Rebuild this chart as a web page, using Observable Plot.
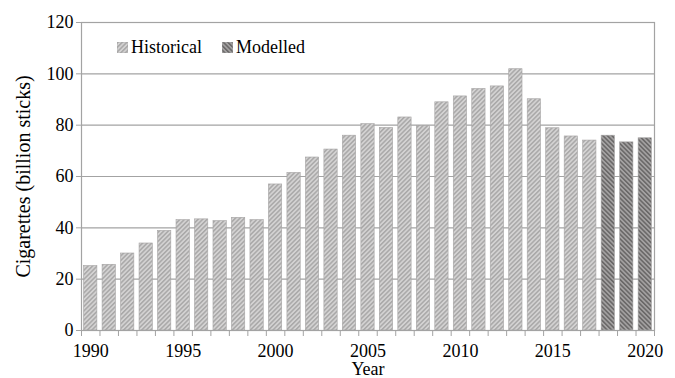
<!DOCTYPE html>
<html>
<head>
<meta charset="utf-8">
<script src="https://cdn.jsdelivr.net/npm/d3@7"></script>
<script src="https://cdn.jsdelivr.net/npm/@observablehq/plot@0.6"></script>
<style>
  html, body { margin: 0; padding: 0; background: #fff; }
  #wrap { position: relative; width: 675px; height: 378px; font-family: 'Liberation Serif', 'Times New Roman', 'DejaVu Serif', serif; }
  #legend { position: absolute; left: 117px; top: 37px; display: flex; align-items: center; font-size: 18px; color: #000; }
  #legend .item { display: flex; align-items: center; margin-right: 20px; }
  #legend svg { margin-right: 3px; }
</style>
</head>
<body>
<svg width="0" height="0" style="position:absolute">
  <defs>
    <pattern id="hist" patternUnits="userSpaceOnUse" width="3.2" height="3.2" patternTransform="rotate(45)">
      <rect width="3.2" height="3.2" fill="#d3d2d2"></rect>
      <rect width="1.5" height="3.2" fill="#a9a8a8"></rect>
    </pattern>
    <pattern id="mod" patternUnits="userSpaceOnUse" width="3.2" height="3.2" patternTransform="rotate(-45)">
      <rect width="3.2" height="3.2" fill="#a3a1a1"></rect>
      <rect width="1.5" height="3.2" fill="#686666"></rect>
    </pattern>
  </defs>
</svg>
<div id="wrap">
  <div id="chart"></div>
  <div id="legend"></div>
</div>
<script>
const years = [1990, 1991, 1992, 1993, 1994, 1995, 1996, 1997, 1998, 1999,
               2000, 2001, 2002, 2003, 2004, 2005, 2006, 2007, 2008, 2009,
               2010, 2011, 2012, 2013, 2014, 2015, 2016, 2017, 2018, 2019, 2020];
const cigarettes = [25.1, 25.6, 30.0, 33.9, 38.8, 43.0, 43.3, 42.6, 43.9, 43.0,
                    56.9, 61.4, 67.4, 70.5, 75.9, 80.4, 78.9, 83.0, 79.7, 88.9,
                    91.2, 94.1, 95.1, 101.8, 90.1, 78.8, 75.6, 74.0, 75.9, 73.3, 74.9];
const seriesOf = ["Historical", "Historical", "Historical", "Historical", "Historical",
                  "Historical", "Historical", "Historical", "Historical", "Historical",
                  "Historical", "Historical", "Historical", "Historical", "Historical",
                  "Historical", "Historical", "Historical", "Historical", "Historical",
                  "Historical", "Historical", "Historical", "Historical", "Historical",
                  "Historical", "Historical", "Historical", "Modelled", "Modelled", "Modelled"];
const seriesNames = ["Historical", "Modelled"];
const seriesFills = ["url(#hist)", "url(#mod)"];
const yTicks = [0, 20, 40, 60, 80, 100, 120];
const xTickLabels = [1990, 1995, 2000, 2005, 2010, 2015, 2020];
const yLabel = "Cigarettes (billion sticks)";
const xLabel = "Year";

const data = years.map((year, i) => ({year, value: cigarettes[i], series: seriesOf[i]}));
const boundaries = years.map(y => y - 0.5).concat([years[years.length - 1] + 0.5]);
const gridColor = "#a3a3a3";
const serif = "'Liberation Serif', 'Times New Roman', 'DejaVu Serif', serif";

const chart = Plot.plot({
  width: 675,
  height: 378,
  marginLeft: 81,
  marginRight: 21,
  marginTop: 22,
  marginBottom: 48,
  style: {fontFamily: serif, fontSize: "18px", color: "#000", background: "#fff"},
  x: {domain: [boundaries[0], boundaries[boundaries.length - 1]], axis: null},
  y: {domain: [0, 120], axis: null},
  color: {domain: seriesNames, range: seriesFills},
  marks: [
    Plot.gridY(yTicks, {stroke: gridColor, strokeOpacity: 1, strokeWidth: 1.2}),
    Plot.rectY(data, {
      x1: d => d.year - 0.5, x2: d => d.year + 0.5, y: "value",
      fill: "series", insetLeft: 2.6, insetRight: 2.6,
      stroke: "#a5a3a3", strokeWidth: 0.6
    }),
    Plot.frame({stroke: gridColor, strokeWidth: 1.2}),
    Plot.axisY({ticks: yTicks, tickSize: 5, tickPadding: 3, stroke: gridColor, label: null, fill: "#000", fontFamily: serif}),
    Plot.axisX({ticks: boundaries, tickSize: 6, tickFormat: () => "", stroke: gridColor, label: null}),
    Plot.axisX({ticks: xTickLabels, tickSize: 0, tickPadding: 14, tickFormat: d => String(d), label: null, fill: "#000", fontFamily: serif}),
    Plot.text([yLabel], {frameAnchor: "left", textAnchor: "middle", lineAnchor: "middle", rotate: -90, dx: -58, fontSize: 20, fill: "#000", fontFamily: serif}),
    Plot.text([xLabel], {frameAnchor: "bottom", lineAnchor: "middle", dy: 39, fontSize: 18, fill: "#000", fontFamily: serif})
  ]
});
document.getElementById("chart").appendChild(chart);

const legend = document.getElementById("legend");
seriesNames.forEach((name, i) => {
  const item = document.createElement("div");
  item.className = "item";
  item.innerHTML = `<svg width="11" height="11"><rect width="11" height="11" fill="${seriesFills[i]}" stroke="#a5a3a3" stroke-width="0.6"></rect></svg><span>${name}</span>`;
  legend.appendChild(item);
});
</script>
</body>
</html>
